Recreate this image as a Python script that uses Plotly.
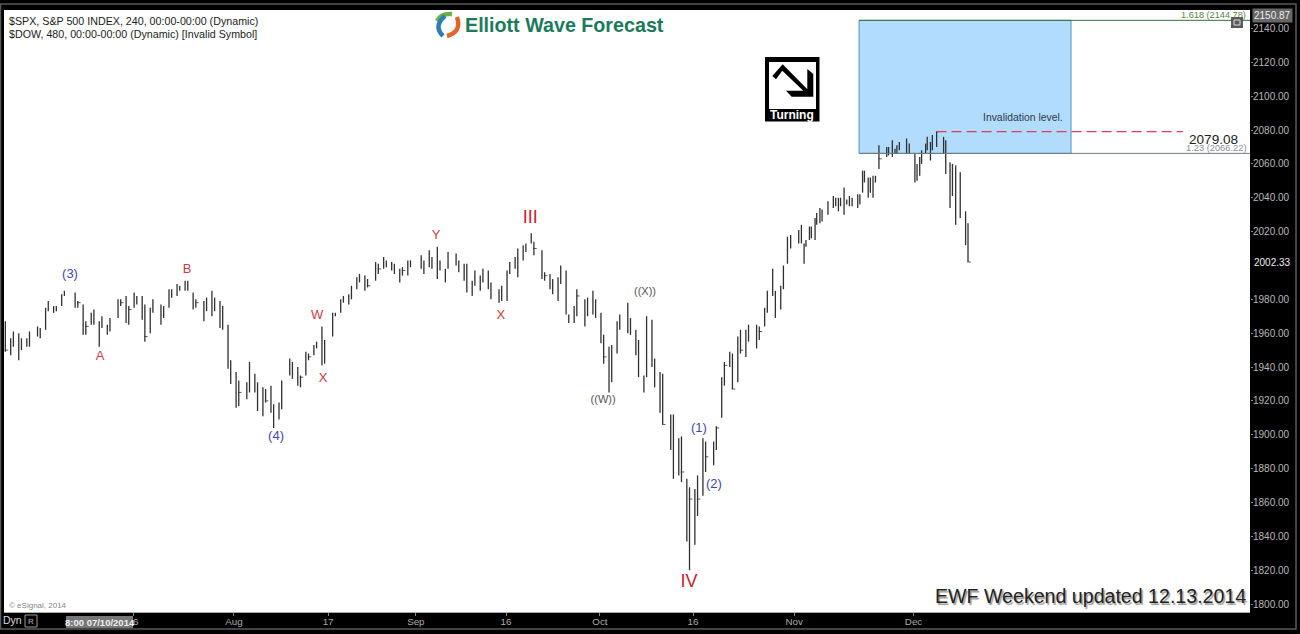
import plotly.graph_objects as go

# bars, slot = one third of a trading day
bar_slot = [0, 2, 3, 5, 6, 8, 9, 12, 13, 15, 16, 18, 19, 21, 22, 26, 27, 29, 30, 32, 33, 35, 36, 38, 39,
            42, 43, 45, 46, 48, 49, 51, 52, 54, 55, 58, 59, 61, 62, 64, 65, 67, 68, 70, 71, 74, 75, 77, 78,
            80, 81, 83, 84, 86, 87, 90, 91, 93, 94, 96, 97, 99, 100, 102, 103, 106, 107, 109, 110, 112, 113,
            115, 116, 118, 119,
            122, 123, 125, 126, 128, 129, 131, 132, 134, 135, 138, 139, 141, 142, 144, 145, 147, 148, 150, 151,
            155, 156, 158, 159, 161, 162, 164, 165, 168, 169, 171, 172, 174, 175, 177, 178, 180, 181, 184, 185,
            187, 188, 190, 191, 193, 194, 196, 197, 200, 201, 203, 204, 206, 207, 209, 210, 212, 213, 216, 217,
            219, 220, 222, 223, 225, 226, 228, 229, 232, 233, 235, 236, 238, 239,
            241, 242, 244, 245, 248, 249, 251, 252, 254, 255, 257, 258, 260, 261, 264, 265, 267, 268, 270, 271,
            273, 274, 276, 277, 280, 281, 283, 284, 286, 287, 289, 290,
            291.5, 292.7, 295.7, 296.7, 297.7, 298.4, 299.7, 300.4, 301.8, 302.4, 303.6, 304.4, 306.6, 308.6,
            309.5, 310.5, 311.3, 312.6, 313.6, 314.6, 315.6, 317.7, 318.5, 319.5, 320.2, 321.6, 322.4, 323.4,
            324.3, 325.6, 328.5, 329.2, 330.6, 331.6, 332.3, 333.2, 335.9, 336.9, 339, 339.8, 340.8, 341.5,
            343, 343.6, 344.8, 345.5, 347.1, 349.7, 350.5, 352.1, 353, 354.2, 355.9, 357.9, 358.8]
bar_high = [1967, 1957, 1961, 1960, 1957, 1957, 1961, 1964, 1963, 1975, 1979, 1976, 1976, 1983, 1985, 1984, 1979,
            1977, 1967, 1972, 1974, 1967, 1970, 1965, 1969,
            1980, 1980, 1982, 1976, 1984, 1982, 1982, 1977, 1975, 1980, 1977, 1976, 1986, 1986, 1989, 1988, 1991,
            1991, 1984, 1980, 1979, 1981, 1985, 1981,
            1979, 1976, 1965, 1944, 1937, 1932, 1931, 1943, 1936, 1931, 1928, 1927, 1929, 1918, 1919, 1932, 1945,
            1943, 1940, 1935, 1949, 1948,
            1953, 1955, 1964, 1956,
            1972, 1972, 1980, 1982, 1983, 1988, 1993, 1995, 1994, 1992, 2002, 2001, 2005, 2003, 2002, 2001, 1998,
            1999, 2003, 2003,
            2006, 2003, 2009, 2005, 2011, 2003, 1998, 2008, 2007, 2003, 2001, 2001, 1991, 1997, 1994, 1998, 1997,
            1990, 1986, 1988,
            1997, 2002, 2005, 2010, 2012, 2013, 2019, 2014, 2009, 1996, 1995, 1992, 1993, 2000, 1997, 1971, 1976,
            1986, 1980, 1981,
            1985, 1980, 1972, 1959, 1952, 1953, 1967, 1971, 1978, 1969, 1962, 1956, 1935, 1970,
            1968, 1945, 1937, 1936, 1912, 1912, 1898, 1899, 1874, 1869, 1868, 1876, 1898, 1896, 1896, 1905, 1934,
            1943, 1949, 1948,
            1958, 1962, 1962, 1965, 1965, 1964, 1975, 1985, 1998, 1985, 1988, 2000,
            2017, 2018, 2021, 2024, 2013, 2015, 2023, 2023, 2028, 2031, 2034, 2033, 2038, 2041,
            2040, 2040, 2040, 2046, 2039, 2041, 2040, 2042, 2042, 2056, 2056, 2052, 2052, 2053,
            2053, 2071, 2070, 2070, 2074, 2069, 2071, 2073, 2075, 2072, 2066, 2060, 2064, 2068,
            2072, 2076, 2073, 2077, 2079, 2076, 2074, 2061, 2060, 2059, 2055, 2032, 2025]
bar_low = [1949, 1947, 1952, 1944, 1950, 1952, 1952, 1958, 1957, 1962, 1973, 1972, 1973, 1976, 1982, 1975, 1975,
           1959, 1959, 1965, 1965, 1952, 1963, 1959, 1961,
           1969, 1976, 1966, 1965, 1975, 1977, 1968, 1955, 1960, 1972, 1965, 1969, 1975, 1981, 1982, 1985, 1985,
           1985, 1974, 1975, 1967, 1973, 1970, 1973,
           1963, 1962, 1939, 1930, 1916, 1917, 1921, 1925, 1925, 1914, 1911, 1919, 1913, 1904, 1909, 1915, 1935,
           1933, 1929, 1928, 1935, 1944,
           1947, 1951, 1941, 1942,
           1958, 1970, 1972, 1978, 1977, 1980, 1986, 1990, 1985, 1987, 1991, 1995, 1998, 1999, 1997, 1995, 1990,
           1994, 1994, 1999,
           1998, 1995, 1999, 1998, 1992, 1997, 1990, 1998, 2000, 1996, 1991, 1984, 1982, 1988, 1985, 1990, 1986,
           1980, 1978, 1979,
           1979, 1995, 1998, 1993, 2003, 2008, 2013, 2006, 1992, 1991, 1986, 1983, 1979, 1989, 1971, 1966, 1966,
           1970, 1964, 1970,
           1971, 1969, 1954, 1942, 1925, 1931, 1948, 1962, 1960, 1959, 1947, 1934, 1925, 1934,
           1940, 1928, 1913, 1906, 1891, 1874, 1876, 1872, 1837, 1820, 1835, 1852, 1864, 1878, 1882, 1891, 1910,
           1929, 1940, 1927,
           1931, 1948, 1946, 1955, 1951, 1956, 1964, 1972, 1982, 1969, 1974, 1986,
           2001, 2010, 2013, 2013, 2001, 2011, 2015, 2016, 2015, 2024, 2025, 2026, 2030, 2034,
           2035, 2032, 2035, 2030, 2036, 2035, 2035, 2034, 2036, 2043, 2049, 2040, 2043, 2040,
           2049, 2057, 2064, 2065, 2064, 2066, 2066, 2068, 2066, 2066, 2049, 2050, 2053, 2060,
           2066, 2068, 2062, 2068, 2070, 2066, 2054, 2034, 2041, 2024, 2028, 2012, 2002]

# the small close ticks that can be made out
close_slot = [0, 27, 30, 43, 46, 52, 71, 87, 97, 110, 113, 135, 139, 148, 197, 201, 213, 223, 245, 252, 255, 258,
              261, 265, 268, 271, 274, 281, 325.6, 347.1, 358.8]
close_val = [1950, 1978, 1964, 1978, 1974, 1958, 1978, 1925, 1920, 1934, 1946, 1988, 1998, 1997, 2010, 1994, 1982,
             1946, 1906, 1878, 1862, 1862, 1887, 1904, 1941, 1927, 1950, 1961, 2063, 2079, 2002]

# wave labels
wave_text = ["(3)", "A", "B", "W", "X", "(4)", "Y", "X", "III", "((W))", "((X))", "(1)", "(2)", "IV"]
wave_slot = [24.1, 35.3, 67.7, 116.2, 118.4, 100.9, 160.5, 184.7, 195.6, 222.8, 238.4, 258.5, 264.1, 254.8]
wave_price = [1994.4, 1946, 1997.3, 1970.2, 1933, 1898.8, 2017.4, 1970.2, 2028, 1920.6, 1984.4, 1903.5, 1870.4, 1812.6]
wave_color = ["#4444b0", "#cc3a44", "#cc3a44", "#cc3a44", "#cc3a44", "#4444b0", "#cc3a44", "#cc3a44", "#c8202f",
              "#555555", "#555555", "#4444b0", "#4444b0", "#c8202f"]
wave_size = [13, 13, 13, 13, 13, 13, 13, 13, 18, 11, 11, 13, 13, 18]

price_ticks = [1800, 1820, 1840, 1860, 1880, 1900, 1920, 1940, 1960, 1980, 2020, 2040, 2060, 2080, 2100, 2120, 2140]
date_slots = [47.6, 85.2, 120.3, 153, 186.6, 221.6, 256.3, 294, 338.5]
date_labels = ["16", "Aug", "17", "Sep", "16", "Oct", "16", "Nov", "Dec"]

fib_high = 2144.79
fib_low = 2066.22
invalidation = 2079.08
box_start, box_end = 318.2, 397.2
inval_start, inval_end = 347.1, 438.9

PLOT_L, PLOT_R, PLOT_T, PLOT_B = 4, 1250, 10, 612


def fx(px):
    return (px - PLOT_L) / (PLOT_R - PLOT_L)


def fy(py):
    return (PLOT_B - py) / (PLOT_B - PLOT_T)


def label(px, py, text, size=11, color="#222222", anchor="center", font_extra=None, **kw):
    font = dict(family="Liberation Sans", size=size, color=color, **(font_extra or {}))
    return dict(x=fx(px), y=fy(py), xref="paper", yref="paper", text=text, showarrow=False, xanchor=anchor,
                yanchor="middle", font=font, **kw)


def poly(points, fill):
    path = "M" + " L".join(f"{fx(x):.5f},{fy(y):.5f}" for x, y in points) + " Z"
    return dict(type="path", path=path, xref="paper", yref="paper", fillcolor=fill, line_width=0, layer="above")


def curve(p0, c, p1, color):
    path = f"M{fx(p0[0]):.5f},{fy(p0[1]):.5f} Q{fx(c[0]):.5f},{fy(c[1]):.5f} {fx(p1[0]):.5f},{fy(p1[1]):.5f}"
    return dict(type="path", path=path, xref="paper", yref="paper", line=dict(color=color, width=4.5), layer="above")


def box(x0, y0, x1, y1, fill=None, line=None, width=1):
    return dict(type="rect", xref="paper", yref="paper", x0=fx(x0), x1=fx(x1), y0=fy(y0), y1=fy(y1),
                fillcolor=fill or "rgba(0,0,0,0)", line=dict(color=line or "rgba(0,0,0,0)", width=width), layer="above")


# high-low sticks as one broken line
stick_x = []
stick_y = []
for s, h, l in zip(bar_slot, bar_high, bar_low):
    stick_x += [s, s, None]
    stick_y += [l, h, None]

fig = go.Figure()
fig.add_trace(go.Scatter(x=stick_x, y=stick_y, mode="lines", line=dict(color="#303030", width=1.3), hoverinfo="skip"))
# close ticks only stick out to the right of the bar
fig.add_trace(go.Scatter(x=[s + 0.4 for s in close_slot], y=close_val, mode="markers", hoverinfo="skip",
                         marker=dict(symbol="line-ew-open", size=2.5, color="#333333", line=dict(color="#333333", width=0.8))))
fig.add_trace(go.Scatter(x=wave_slot, y=wave_price, mode="text", text=wave_text, hoverinfo="skip",
                         textfont=dict(family="Liberation Sans", size=wave_size, color=wave_color)))

shapes = [
    dict(type="rect", x0=box_start, x1=box_end, y0=fib_low, y1=fib_high, fillcolor="#b1dcfd",
         line=dict(color="#4d93b8", width=1), layer="below"),
    dict(type="line", x0=box_start, x1=463.9, y0=fib_high, y1=fib_high, line=dict(color="#35703a", width=1)),
    dict(type="line", x0=box_start, x1=463.9, y0=fib_low, y1=fib_low, line=dict(color="#707a80", width=1)),
    dict(type="line", x0=inval_start, x1=inval_end, y0=invalidation, y1=invalidation,
         line=dict(color="#dc3f5c", width=1.4, dash="10px,5px")),
    # outer frame
    box(0.5, 4, 1296, 629, line="#5a5a5a", width=1.5),
    # restore icon
    box(1231, 17, 1243, 28, fill="#5a5a5a"),
    box(1234, 20, 1240, 25, line="#dddddd"),
    # date cursor box, lock icon
    box(66, 616, 133, 628, fill="#777777"),
    box(25, 615, 37, 627, line="#999999"),
    # turning sign
    box(765, 57, 819.5, 121.5, fill="#000000"),
    box(769, 62, 816, 109, fill="#ffffff"),
    poly([(772.3, 76), (782.7, 64.3), (807.3, 89.3), (807.3, 69), (813.3, 74), (813.3, 96.7), (791.7, 96.7),
          (786, 90.7), (803.3, 90.7), (782.3, 70.7), (776, 79.3)], "#000000"),
    # logo
    curve((437, 21), (441, 13), (452, 14), "#6fae45"),
    curve((445, 16), (433, 26), (443, 36), "#2a7fb8"),
    curve((457, 17), (462, 32), (447, 36), "#e2652b"),
]

annotations = [
    label(7, 21, "$SPX, S&P 500 INDEX, 240, 00:00-00:00 (Dynamic)", size=10.7, anchor="left"),
    label(7, 34, "$DOW, 480, 00:00-00:00 (Dynamic) [Invalid Symbol]", size=10.7, anchor="left"),
    label(564, 25, "<b>Elliott Wave Forecast</b>", size=19.7, color="#1c7a5c"),
    label(792, 115, "<b>Turning</b>", size=12, color="#ffffff"),
    label(1023, 118, "Invalidation level.", size=10.4, color="#2f3a48"),
    label(1213.5, 140, "2079.08", size=13.6, color="#222222"),
    label(1215.5, 148, "1.23 (2066.22)", size=9.3, color="#8a8f98"),
    label(1213, 15, "1.618 (2144.78)", size=9.2, color="#5f8045"),
    label(7, 605, "© eSignal, 2014", size=8, color="#888888", anchor="left"),
    label(1090, 596, "EWF Weekend updated 12.13.2014", size=19.6, color="#222222",
          font_extra=dict(shadow="1.5px 1.5px 1px #999999")),
    label(99.5, 622, "<b>8:00 07/10/2014</b>", size=9.5, color="#f0f0f0"),
    label(12, 620, "Dyn", size=10.5, color="#dddddd"),
    label(31, 621, "R", size=8, color="#bbbbbb"),
    label(1272, 15, "2150.87", size=10, color="#eeeeee", bgcolor="#666666"),
    label(1272, 262, "2002.33", size=10, color="#eeeeee"),
]

fig.update_layout(
    width=1300, height=634, autosize=False,
    margin=dict(l=PLOT_L, r=1300 - PLOT_R, t=PLOT_T, b=634 - PLOT_B),
    paper_bgcolor="#000000", plot_bgcolor="#ffffff",
    showlegend=False, hovermode=False,
    shapes=shapes, annotations=annotations,
    xaxis=dict(range=[-0.5, 463.9], tickmode="array", tickvals=date_slots, ticktext=date_labels, showgrid=False,
               zeroline=False, ticks="outside", ticklen=3, tickcolor="#888888", showline=True, linecolor="#aaaaaa",
               ticklabelstandoff=-3, tickfont=dict(family="Liberation Sans", size=9.8, color="#aaaaaa")),
    yaxis=dict(range=[1795.3, 2150.9], side="right", tickmode="array", tickvals=price_ticks,
               ticktext=[f"{v:.2f}" for v in price_ticks], showgrid=False, zeroline=False, ticks="outside", ticklen=2,
               ticklabelstandoff=-2, tickcolor="#888888", tickfont=dict(family="Liberation Sans", size=10, color="#b8b8b8")),
)

fig.write_html("out.html", config=dict(displayModeBar=False),
               post_script="document.body.style.margin='0';document.body.style.background='#000';")
